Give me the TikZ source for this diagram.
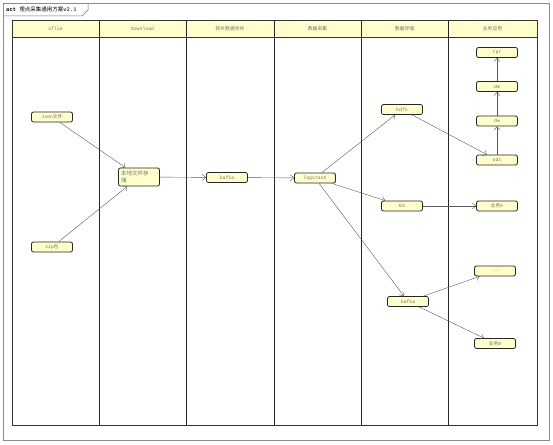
\documentclass[tikz,border=0pt]{standalone}
\usepackage{fontspec}
\setmainfont{Liberation Mono}
\newfontfamily\cjk{Noto Sans CJK SC}
\usetikzlibrary{arrows.meta}
\definecolor{actfill}{HTML}{FFFFCC}
\tikzset{
  actnode/.style={draw=black!85,fill=actfill,rounded corners=2pt,line width=.8pt,
    minimum width=41pt,minimum height=10pt,inner sep=1pt,
    font=\fontsize{4.8}{5}\selectfont,text=black!55},
  flow/.style={draw=black!65,line width=.4pt,-{Straight Barb[length=3.5pt,width=6pt]}},
  lanehead/.style={font=\fontsize{4.8}{5}\selectfont,text=black!55}
}
\begin{document}
\begin{tikzpicture}[x=1pt,y=-1pt]
\useasboundingbox (0,0) rectangle (553,444);
% frame and title tab
\draw[black!45,line width=.6pt] (3,3) rectangle (549,440);
\draw[black!55,line width=.5pt] (3,16)--(82,16)--(88,10)--(88,3);
\node[anchor=west,font=\fontsize{5.5}{6}\selectfont,inner sep=0pt] (title) at (6,9.5) {\textbf{act} {\cjk 埋点采集通用方案}v2.1};
% swimlanes
\fill[actfill] (12,21) rectangle (537,37);
\draw[black!80,line width=1pt] (12,21) rectangle (537,425);
\draw[black!80,line width=.8pt] (12,37)--(537,37);
\foreach \x in {99,186,274,361,448}
  \draw[black!85,line width=1pt] (\x,21)--(\x,425);
\node[lanehead] (h1) at (55.5,29) {uflie};
\node[lanehead] (h2) at (142.5,29) {download};
\node[lanehead] (h3) at (230,29) {\cjk 碎片数据合并};
\node[lanehead] (h4) at (317.5,29) {\cjk 数据采集};
\node[lanehead] (h5) at (404.5,29) {\cjk 数据存储};
\node[lanehead] (h6) at (492.5,29) {\cjk 业务应用};
% activities
\node[actnode] (json) at (52,117) {Json{\cjk 文件}};
\node[actnode] (zip) at (52,247) {zip{\cjk 包}};
\node[actnode,minimum height=18pt,text width=36pt,align=left,font=\cjk\fontsize{5.5}{6.5}\selectfont] (local) at (139,177) {本地文件存\\储};
\node[actnode] (kafkaA) at (227,177.5) {kafka};
\node[actnode] (logstash) at (315,178) {logstash};
\node[actnode] (hdfs) at (402,109.5) {hdfs};
\node[actnode] (es) at (402,206) {ES};
\node[actnode] (kafkaB) at (408,301.5) {kafka};
\node[actnode] (rpt) at (497,52.5) {rpt};
\node[actnode] (dm) at (497,86.5) {dm};
\node[actnode] (dw) at (497,121) {dw};
\node[actnode] (ods) at (497,160) {ods};
\node[actnode] (bizk) at (497,206) {{\cjk 业务}k};
\node[actnode] (more) at (495,271) {...};
\node[actnode] (bizm) at (495,343.5) {{\cjk 业务}m};
% flows
\draw[flow] (json)--(local);
\draw[flow] (zip)--(local);
\draw[flow] (local)--(kafkaA);
\draw[flow] (kafkaA)--(logstash);
\draw[flow] (logstash)--(hdfs);
\draw[flow] (logstash)--(es);
\draw[flow] (logstash)--(kafkaB);
\draw[flow] (hdfs)--(ods);
\draw[flow] (ods)--(dw);
\draw[flow] (dw)--(dm);
\draw[flow] (dm)--(rpt);
\draw[flow] (es)--(bizk);
\draw[flow] (kafkaB)--(more);
\draw[flow] (kafkaB)--(bizm);
\end{tikzpicture}
\end{document}
